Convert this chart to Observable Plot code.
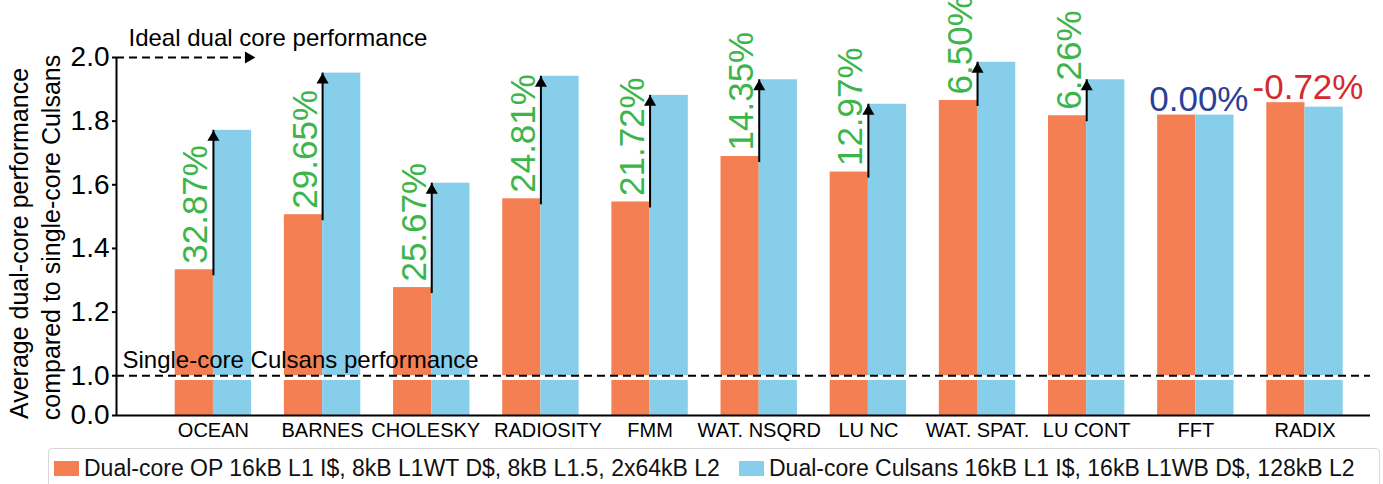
<!DOCTYPE html>
<html><head><meta charset="utf-8">
<script src="https://cdn.jsdelivr.net/npm/d3@7"></script>
<script src="https://cdn.jsdelivr.net/npm/@observablehq/plot@0.6"></script>
<style>
body{margin:0;background:#fff;font-family:"Liberation Sans",Arial,sans-serif;}
#wrap{position:relative;width:1383px;height:484px;overflow:hidden;}
#legend{position:absolute;left:48px;top:448px;width:1332px;height:42px;border:1px solid #d9d9d9;border-radius:4px;box-sizing:border-box;}
.item{position:absolute;top:0;height:38px;display:flex;align-items:center;font-size:23px;color:#111;white-space:nowrap;}
.sw{width:25px;height:15px;margin-right:5px;}
</style></head><body><div id="wrap"><div id="chart"></div><div id="legend"></div></div>
<script>
const categories = ["OCEAN","BARNES","CHOLESKY","RADIOSITY","FMM","WAT. NSQRD","LU NC","WAT. SPAT.","LU CONT","FFT","RADIX"];
const seriesNames = ["Dual-core OP 16kB L1 I$, 8kB L1WT D$, 8kB L1.5, 2x64kB L2","Dual-core Culsans 16kB L1 I$, 16kB L1WB D$, 128kB L2"];
const opValues = [1.333,1.506,1.277,1.556,1.546,1.689,1.640,1.865,1.817,1.819,1.858];
const culsansValues = [1.771,1.951,1.605,1.941,1.881,1.930,1.853,1.985,1.930,1.819,1.844];
const gains = [32.87,29.65,25.67,24.81,21.72,14.35,12.97,6.50,6.26,0.00,-0.72];
const yTicks = [0,1.0,1.2,1.4,1.6,1.8,2.0];
const yTitle = ["Average dual-core performance","compared to single-core Culsans"];
const idealText = "Ideal dual core performance";
const singleText = "Single-core Culsans performance";
const colors = ["#F47F52","#87CEEB"];
const green = "#3cb54a", blueTxt = "#2b3f98", redTxt = "#d42a2c";

const xDom = [-0.888, 10.6];
const breakLow = 0.985;
const rows = categories.map((c,i)=>({i, c, op: opValues[i], cu: culsansValues[i], gain: gains[i], label: gains[i].toFixed(2)+"%"}));
const bw = 0.35;
const bars = rows.flatMap(r => [{x1: r.i-bw, x2: r.i, v: r.op, s: 0},{x1: r.i, x2: r.i+bw, v: r.cu, s: 1}]);
const pos = rows.filter(r => r.gain > 0);
const flat = rows.filter(r => r.gain <= 0);
// small horizontal nudges of crowded category labels (layout only)
const nudge = {"CHOLESKY": -6, "RADIOSITY": 7};
const labelGroups = d3.groups(rows, r => nudge[r.c] || 0);

const chart = Plot.plot({
  width: 1383, height: 446,
  marginLeft: 116, marginRight: 13, marginTop: 57, marginBottom: 31,
  style: {fontFamily: "'Liberation Sans', Arial, sans-serif", background: "white", color: "black"},
  x: {type: "linear", domain: xDom, range: [116, 1370], axis: null},
  y: {type: "linear", domain: [0, breakLow, 2], range: [415, 380, 57]},
  marks: [
    Plot.rect(bars, {x1: "x1", x2: "x2", y1: 0, y2: "v", fill: d => colors[d.s]}),
    Plot.rect([0], {x1: xDom[0], x2: xDom[1], y1: breakLow, y2: 1.0, fill: "white"}),
    Plot.ruleY([1], {x1: xDom[0], x2: xDom[1], stroke: "black", strokeWidth: 2, strokeDasharray: "8,5"}),
    Plot.ruleY([2], {x1: xDom[0], x2: 0.29, stroke: "black", strokeWidth: 2, strokeDasharray: "8,5"}),
    Plot.dot([2], {x: 0.385, y: d => d, symbol: "triangle", r: 4.5, rotate: 90, fill: "black", stroke: "none", dx: -7}),
    Plot.ruleX([xDom[0]], {y1: 0, y2: 2, stroke: "black", strokeWidth: 2}),
    Plot.ruleY([0], {x1: xDom[0], x2: xDom[1], stroke: "black", strokeWidth: 2}),
    Plot.ruleX(pos, {x: "i", y1: "op", y2: "cu", stroke: "black", strokeWidth: 2, insetTop: 6}),
    Plot.dot(pos, {x: "i", y: "cu", symbol: "triangle", r: 4.5, fill: "black", stroke: "none", dy: 7}),
    Plot.text(pos, {x: "i", y: "op", text: "label", rotate: -90, textAnchor: "start", lineAnchor: "bottom", dx: -6, dy: -6, fontSize: 35, fill: green}),
    Plot.text(flat, {x: "i", y: d => Math.max(d.op, d.cu), text: "label", lineAnchor: "bottom", dx: 3, dy: -4, fontSize: 35, fill: d => d.gain === 0 ? blueTxt : redTxt}),
    Plot.text([idealText], {x: -0.778, y: 2, text: d => d, textAnchor: "start", lineAnchor: "bottom", dy: -12, fontSize: 24}),
    Plot.text([singleText], {x: -0.833, y: 1, text: d => d, textAnchor: "start", lineAnchor: "bottom", dy: -8, fontSize: 24}),
    Plot.text([yTitle[0]], {frameAnchor: "left", text: d => d, rotate: -90, textAnchor: "middle", lineAnchor: "bottom", dx: -89, dy: 7, fontSize: 25}),
    Plot.text([yTitle[1]], {frameAnchor: "left", text: d => d, rotate: -90, textAnchor: "middle", lineAnchor: "bottom", dx: -57, dy: 1, fontSize: 25}),
    Plot.axisY({ticks: yTicks, tickFormat: d3.format(".1f"), tickSize: 4, tickPadding: 3, fontSize: 28, strokeWidth: 2}),
    ...labelGroups.map(([dx, rs]) => Plot.text(rs, {x: "i", y: 0, text: "c", lineAnchor: "top", dy: 7, dx, fontSize: 20}))
  ]
});
document.getElementById("chart").appendChild(chart);

const legend = document.getElementById("legend");
const lefts = [5, 690];
seriesNames.forEach((n, k) => {
  const it = document.createElement("div");
  it.className = "item";
  it.style.left = lefts[k] + "px";
  it.innerHTML = `<span class="sw" style="background:${colors[k]}"></span><span>${n}</span>`;
  legend.appendChild(it);
});
</script></body></html>
